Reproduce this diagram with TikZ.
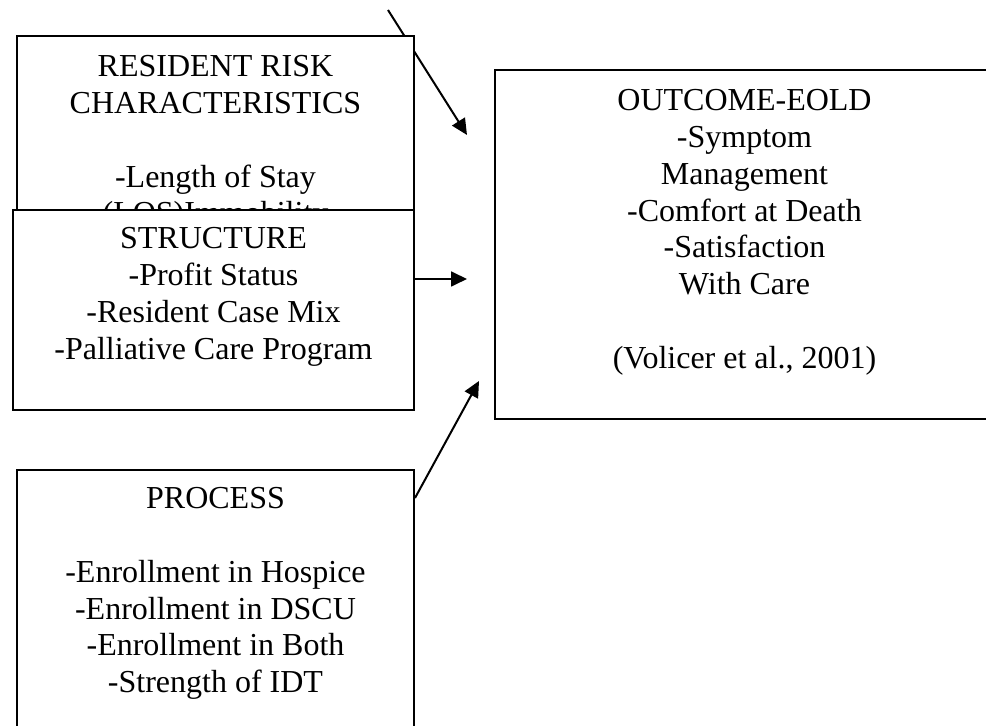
\documentclass[tikz,border=0pt]{standalone}
\usepackage{fontspec}
\setmainfont{Liberation Serif}
\usepackage{tikz}
\usetikzlibrary{arrows.meta, calc}

\begin{document}
\begin{tikzpicture}[
    x=0.375pt, y=-0.375pt,  % 1 unit = 1 pixel of the page, y runs down
    panel/.style={draw, fill=white, line width=0.75pt, anchor=north west,
        inner sep=0pt},
    paneltext/.style={align=center, inner sep=0pt, anchor=north,
        font=\fontsize{12}{13.8}\selectfont,
        execute at begin node={\rule{0pt}{11pt}}},
    flow/.style={-{Triangle[length=6pt,width=5.6pt]}, line width=0.75pt},
]

% ── Page frame ───────────────────────────────────────────────────────────────
\useasboundingbox (0,0) rectangle (986,726);
\clip (0,0) rectangle (986,726);

% ── Arrow coming in from above (runs behind the risk box) ────────────────────
\coordinate (riskin) at (388,10);
\coordinate (riskout) at (467,135);
\draw[flow] (riskin) -- (riskout);

% ── Resident risk characteristics ────────────────────────────────────────────
\node[panel, minimum width=148.875pt, minimum height=99.375pt]
    (risk) at (16,35) {};
\node[paneltext] (risk-txt) at ($(risk.north)+(0,20)$)
    {RESIDENT RISK\\CHARACTERISTICS\\[13.8pt]-Length of Stay\\(LOS)Immobility};

% ── Structure ────────────────────────────────────────────────────────────────
\node[panel, minimum width=150.375pt, minimum height=75pt]
    (structure) at (12,209) {};
\node[paneltext] (structure-txt) at ($(structure.north)+(0,18)$)
    {STRUCTURE\\-Profit Status\\-Resident Case Mix\\-Palliative Care Program};

% ── Process ──────────────────────────────────────────────────────────────────
\node[panel, minimum width=148.875pt, minimum height=105pt]
    (process) at (16,469) {};
\node[paneltext] (process-txt) at ($(process.north)+(0,18)$)
    {PROCESS\\[13.8pt]-Enrollment in Hospice\\-Enrollment in DSCU\\
     -Enrollment in Both\\-Strength of IDT};

% ── Outcome ──────────────────────────────────────────────────────────────────
\node[panel, minimum width=187.125pt, minimum height=130.875pt]
    (outcome) at (494,69) {};
\node[paneltext] (outcome-txt) at ($(outcome.north)+(0,20)$)
    {OUTCOME-EOLD\\-Symptom\\Management\\-Comfort at Death\\-Satisfaction\\
     With Care\\[13.8pt](Volicer et al., 2001)};

% ── Arrows into the outcome box ──────────────────────────────────────────────
\coordinate (structureout) at (467,279);
\coordinate (processout) at (479,381);
\draw[flow] ($(structure.north east)+(0,70)$) -- (structureout);
\draw[flow] ($(process.north east)+(0,29)$) -- (processout);

\end{tikzpicture}
\end{document}
